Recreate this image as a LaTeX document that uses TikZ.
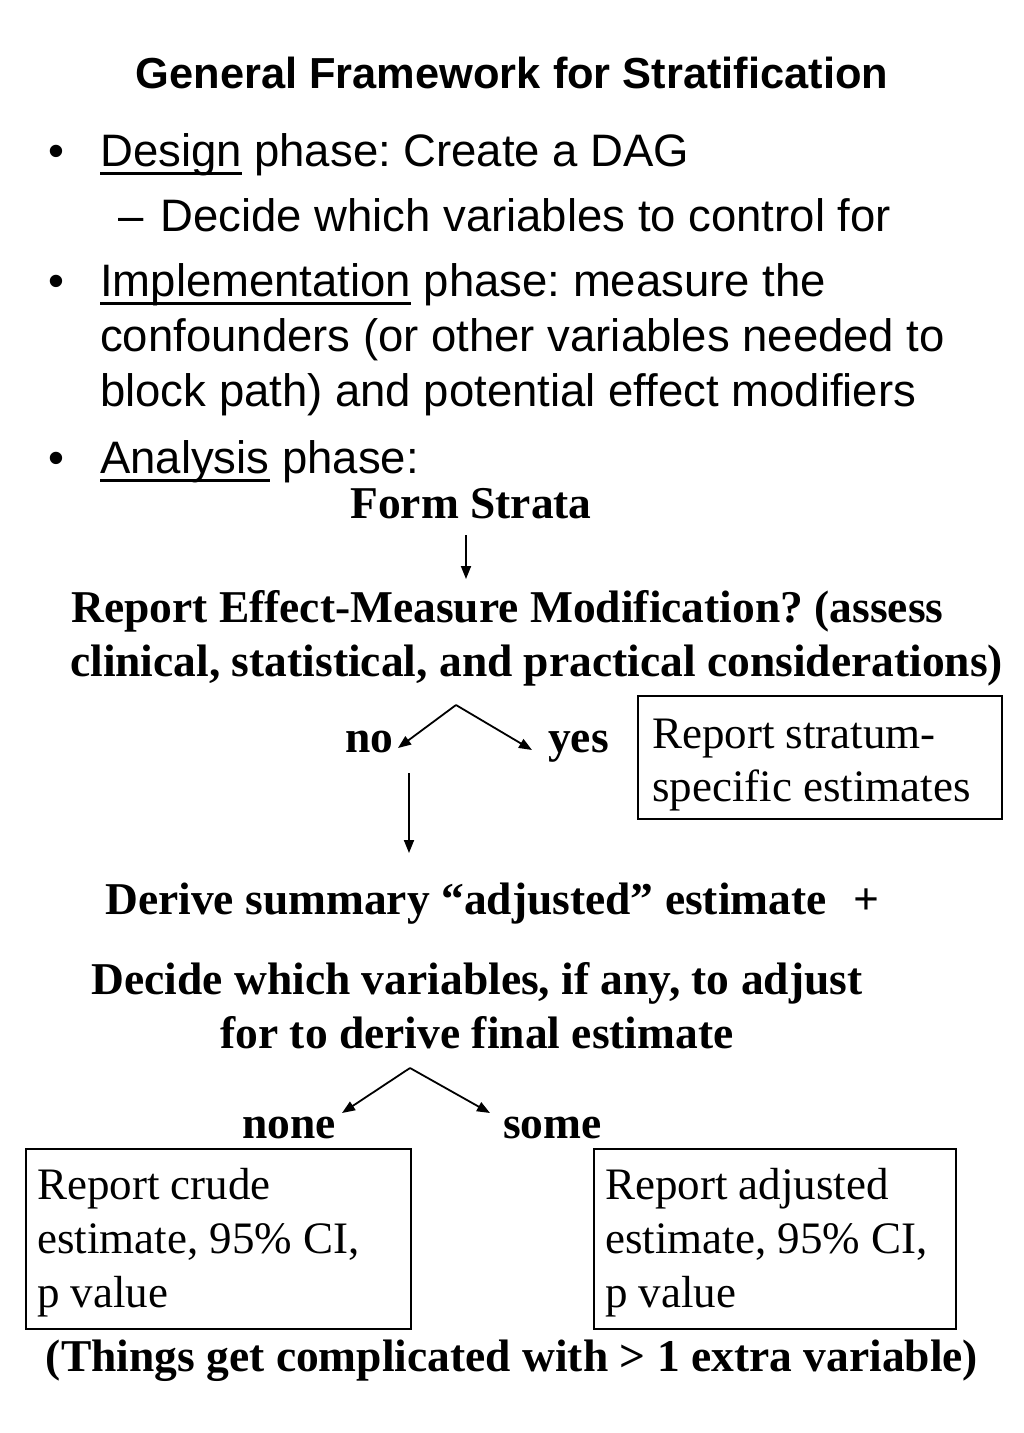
\documentclass[tikz,border=0pt]{standalone}
\usepackage{fontspec}
\setmainfont{Liberation Serif}
\newfontfamily\arialf{Liberation Sans}
\usetikzlibrary{arrows.meta}
\newcommand\myul[1]{\setbox0\hbox{#1}\rlap{\rule[-9pt]{\wd0}{3pt}}\box0\relax}
\frenchspacing
\begin{document}
\begin{tikzpicture}[x=1pt,y=-1pt,
  txt/.style={inner sep=0pt, anchor=base west, font=\fontsize{45}{54}\selectfont\frenchspacing},
  btxt/.style={inner sep=0pt, anchor=base west, font=\fontsize{45.5}{54}\selectfont\bfseries\frenchspacing},
  atxt/.style={inner sep=0pt, anchor=base west, font=\fontsize{45.5}{54}\selectfont\arialf\frenchspacing},
  frame/.style={draw, line width=1.5pt, inner sep=0pt, anchor=north west},
  arr/.style={line width=1.8pt, -{Triangle[length=13pt,width=10pt]}}]
\useasboundingbox[fill=white] (0,0) rectangle (1024,1433);

% title
\node[inner sep=0pt, anchor=base, font=\fontsize{43.4}{50}\selectfont\arialf\bfseries] (title) at (512,88) {General Framework for Stratification};

% bullets
\node[atxt] (b1) at (48,166) {•};
\node[atxt] (l1) at (100,166) {\myul{Design} phase: Create a DAG};
\node[atxt] (d1) at (118,231) {–};
\node[atxt] (l2) at (160,231) {Decide which variables to control for};
\node[atxt] (b2) at (48,296) {•};
\node[atxt] (l3) at (100,296) {\myul{Implementation} phase: measure the};
\node[atxt] (l4) at (100,351) {confounders (or other variables needed to};
\node[atxt] (l5) at (100,406) {block path) and potential effect modifiers};
\node[atxt] (b3) at (48,473) {•};
\node[atxt] (l6) at (100,473) {\myul{Analysis} phase:};

% flow
\node[btxt, anchor=base] (form) at (471,518) {Form Strata};
\node[btxt] (rep1) at (71,622) {Report Effect-Measure Modification? (assess};
\node[btxt] (rep2) at (70,676) {clinical, statistical, and practical considerations)};
\coordinate (fa) at (466,535);
\coordinate (fb) at (466,579);
\draw[arr] (fa) -- (fb);

\node[btxt] (no) at (345,752) {no};
\node[btxt] (yes) at (548,752) {yes};
\coordinate (s1) at (456,705);
\coordinate (s1l) at (398,748);
\coordinate (s1r) at (532,750);
\draw[arr] (s1) -- (s1l);
\draw[arr] (s1) -- (s1r);
\coordinate (na) at (409,773);
\coordinate (nb) at (409,853);
\draw[arr] (na) -- (nb);

\node[frame, minimum width=364pt, minimum height=123pt] (sbox) at (637,695) {};
\node[txt] (s1t) at (652,748) {Report stratum-};
\node[txt] (s2t) at (652,801) {specific estimates};

\node[btxt] (derive) at (105,914) {Derive summary “adjusted” estimate\hspace{27pt}+};
\node[btxt, anchor=base] (dec1) at (477,994) {Decide which variables, if any, to adjust};
\node[btxt, anchor=base] (dec2) at (477,1048) {for to derive final estimate};

\coordinate (s2) at (410,1068);
\coordinate (s2l) at (342,1113);
\coordinate (s2r) at (490,1113);
\draw[arr] (s2) -- (s2l);
\draw[arr] (s2) -- (s2r);
\node[btxt] (none) at (242,1138) {none};
\node[btxt] (some) at (503,1138) {some};

\node[frame, minimum width=385pt, minimum height=180pt] (box1) at (25,1148) {};
\node[txt] (c1) at (37,1199) {Report crude};
\node[txt] (c2) at (37,1253) {estimate, 95\% CI,};
\node[txt] (c3) at (37,1307) {p value};

\node[frame, minimum width=362pt, minimum height=180pt] (box2) at (593,1148) {};
\node[txt] (a1) at (605,1199) {Report adjusted};
\node[txt] (a2) at (605,1253) {estimate, 95\% CI,};
\node[txt] (a3) at (605,1307) {p value};

\node[btxt, anchor=base] (things) at (512,1371) {(Things get complicated with > 1 extra variable)};
\end{tikzpicture}
\end{document}
